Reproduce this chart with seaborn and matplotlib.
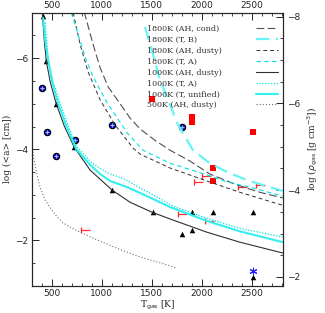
import numpy as np
import pandas as pd
import matplotlib
matplotlib.use("Agg")
import matplotlib.pyplot as plt
import seaborn as sns
from matplotlib.ticker import MultipleLocator

# ---------------- data ----------------
# model atmosphere curves: T_gas [K] vs log(rho_gas) (right axis)
T_ah_cond_1800 = [823, 913, 983, 1063, 1183, 1283, 1383, 1543, 1683, 1883, 2083, 2353, 2583, 2813]
r_ah_cond_1800 = [-8.11, -7.35, -6.82, -6.38, -5.99, -5.66, -5.41, -5.13, -4.92, -4.67, -4.37, -4.12, -3.95, -3.82]

T_t_b_1800 = [1433, 1513, 1583, 1653, 1753, 1913, 2083, 2253, 2453, 2813]
r_t_b_1800 = [-7.76, -7.12, -6.54, -6.15, -5.55, -4.92, -4.62, -4.42, -4.23, -3.98]

T_ah_dusty_1800 = [713, 783, 863, 983, 1133, 1313, 1383, 1683, 2053, 2383, 2813]
r_ah_dusty_1800 = [-8.09, -7.35, -6.72, -6.08, -5.50, -4.97, -4.83, -4.51, -4.21, -3.95, -3.65]

T_t_a_1800 = [693, 763, 843, 913, 1053, 1253, 1413, 1683, 2053, 2253, 2483, 2813]
r_t_a_1800 = [-8.09, -7.58, -7.00, -6.61, -6.01, -5.32, -4.92, -4.62, -4.35, -4.19, -4.07, -3.86]

T_ah_dusty_1000 = [403, 423, 443, 483, 543, 623, 723, 883, 1103, 1283, 1503, 1713, 2053, 2383, 2813]
r_ah_dusty_1000 = [-8.09, -7.46, -6.98, -6.49, -5.99, -5.48, -4.99, -4.46, -4.00, -3.72, -3.49, -3.31, -3.03, -2.80, -2.55]

T_t_a_1000 = [433, 463, 513, 583, 663, 753, 903, 1063, 1233, 1383, 1483, 1713, 2053, 2383, 2813]
r_t_a_1000 = [-7.86, -7.00, -6.49, -5.99, -5.48, -4.99, -4.62, -4.39, -4.25, -4.05, -3.93, -3.63, -3.35, -3.12, -2.92]

T_t_unif_1000 = [413, 433, 463, 503, 563, 643, 743, 883, 983, 1083, 1253, 1453, 1683, 2053, 2383, 2813]
r_t_unif_1000 = [-7.97, -7.46, -6.98, -6.49, -5.99, -5.48, -4.95, -4.58, -4.37, -4.21, -4.07, -3.86, -3.61, -3.29, -3.05, -2.80]

T_ah_dusty_500 = [300, 313, 343, 383, 433, 483, 553, 613, 703, 783, 953, 1153, 1333, 1483, 1633, 1753]
r_ah_dusty_500 = [-5.10, -4.81, -4.42, -4.05, -3.77, -3.59, -3.38, -3.24, -3.12, -3.03, -2.85, -2.66, -2.50, -2.39, -2.29, -2.20]

# observational / model points: T_gas [K] vs log(<a>) (left axis)
T_tri = [406, 443, 540, 723, 1100, 1510, 1906, 2110, 2510, 1806, 1906, 2510]
a_tri = [-6.93, -5.95, -5.00, -4.05, -3.11, -2.63, -2.63, -2.63, -2.63, -2.15, -2.24, -1.20]

T_circ = [400, 450, 540, 733, 1100, 1806]
a_circ = [-5.35, -4.37, -3.85, -4.20, -4.53, -4.48]

T_star = [2510]
a_star = [-1.33]

T_sq = [1506, 1906, 1906, 2510, 2110, 2110]
a_sq = [-5.10, -4.70, -4.61, -4.39, -3.60, -3.31]

T_lim = [793, 1926, 2000, 2360, 2540, 1760, 2036]
a_lim = [-2.23, -3.28, -3.41, -3.17, -3.22, -2.57, -2.42]

legend_labels = ["1800K (AH, cond)", "1800K (T, B)", "1800K (AH, dusty)", "1800K (T, A)",
                 "1000K (AH, dusty)", "1000K (T, A)", "1000K (T, unified)", "500K (AH, dusty)"]

x_ticks = [500, 1000, 1500, 2000, 2500]

# ---------------- figure ----------------
sns.set_style("ticks")
plt.rcParams["font.family"] = ["DejaVu Serif"]
plt.rcParams["axes.linewidth"] = 0.8

fig = plt.figure(figsize=(3.25, 3.13), dpi=100)
ax = fig.add_axes([32 / 325, 27 / 313, 251 / 325, 273.3 / 313])
ax2 = ax.twinx()

curves = [
    (T_ah_cond_1800, r_ah_cond_1800, "#505050", (0, (7, 3)), 0.8),
    (T_t_b_1800, r_t_b_1800, "#66f5f5", (0, (6, 3)), 1.6),
    (T_ah_dusty_1800, r_ah_dusty_1800, "#303030", (0, (4, 3)), 0.7),
    (T_t_a_1800, r_t_a_1800, "#00e5e5", (0, (4, 3)), 0.8),
    (T_ah_dusty_1000, r_ah_dusty_1000, "#303030", "-", 0.8),
    (T_t_a_1000, r_t_a_1000, "#00e0e0", (0, (1, 1.3)), 0.9),
    (T_t_unif_1000, r_t_unif_1000, "#33f0f0", "-", 1.5),
    (T_ah_dusty_500, r_ah_dusty_500, "#707070", (0, (1, 1.8)), 0.8),
]
handles = []
for (tx, ry, col, ls, lw), lab in zip(curves, legend_labels):
    df = pd.DataFrame({"T": tx, "r": ry})
    sns.lineplot(data=df, x="T", y="r", ax=ax2, color=col, linestyle=ls, linewidth=lw,
                 sort=False, estimator=None, label=lab, legend=False)
    handles.append(ax2.lines[-1])

# markers
sns.scatterplot(x=T_tri, y=a_tri, ax=ax, marker="^", color="black", s=16, linewidth=0, zorder=5)
sns.scatterplot(x=T_circ, y=a_circ, ax=ax, marker="o", color="#1a1aff", edgecolor="black",
                s=20, linewidth=0.9, zorder=5)
sns.scatterplot(x=T_circ, y=a_circ, ax=ax, marker="+", color="#b0c8ff", s=5, linewidth=0.6, zorder=6)
sns.scatterplot(x=T_star, y=a_star, ax=ax, marker=(6, 2, 0), color="#2020ff", s=22,
                linewidth=0.8, zorder=5)
sns.scatterplot(x=T_sq, y=a_sq, ax=ax, marker="s", color="#ff0000", s=14, linewidth=0, zorder=5)
sns.scatterplot(x=T_lim, y=a_lim, ax=ax, marker="|", color="#ff2020", s=22, linewidth=0.9, zorder=5)
sns.scatterplot(x=T_lim, y=a_lim, ax=ax, marker=1, color="#ff3030", s=40, linewidth=0.9, zorder=5)

# axes limits and ticks
ax.set_xlim(300, 2815)
ax.set_ylim(-1.0, -7.0)
ax2.set_ylim(-1.79, -8.09)
ax.set_xticks(x_ticks)
ax.xaxis.set_minor_locator(MultipleLocator(100))
ax.yaxis.set_major_locator(MultipleLocator(2))
ax.yaxis.set_minor_locator(MultipleLocator(0.5))
ax2.yaxis.set_major_locator(MultipleLocator(2))
ax2.yaxis.set_minor_locator(MultipleLocator(0.5))

tick_font = 6.5
ax.tick_params(axis="x", which="both", direction="in", top=True, bottom=True,
               labeltop=True, labelbottom=True, labelsize=tick_font, pad=2)
ax.tick_params(axis="y", which="both", direction="in", left=True, right=False,
               labelsize=tick_font, pad=3)
ax2.tick_params(axis="y", which="both", direction="in", right=True, left=False,
                labelsize=tick_font, pad=3)
for a_ in (ax, ax2):
    a_.tick_params(which="major", length=5, width=0.7)
    a_.tick_params(which="minor", length=2.5, width=0.6)
for lab in ax.get_xticklabels() + ax.get_yticklabels() + ax2.get_yticklabels():
    lab.set_family("DejaVu Sans")

ax.set_xlabel(r"T$_{\rm gas}$ [K]", fontsize=6.5, labelpad=1)
ax.set_ylabel(r"log (<a> [cm])", fontsize=6.5, labelpad=2)
ax2.set_ylabel(r"log ($\rho_{\rm gas}$ [g cm$^{-3}$])", fontsize=6.5, labelpad=4)

for s in ax.spines.values():
    s.set_linewidth(0.8)

leg = ax2.legend(handles=handles, labels=legend_labels, loc="upper right",
                 bbox_to_anchor=(0.98, 0.955), frameon=False, markerfirst=False,
                 fontsize=5.8, handlelength=2.7, handletextpad=3.0, labelspacing=0.36,
                 borderpad=0.0, borderaxespad=0.0)
for t in leg.get_texts():
    t.set_color("#333333")
# left-align the label texts while keeping the line samples right-aligned
for col in leg._legend_handle_box.get_children():
    col.align = "left"
    for row in col.get_children():
        row.mode = "expand"
        row.width = 131

fig.savefig("out.png", dpi=100)
